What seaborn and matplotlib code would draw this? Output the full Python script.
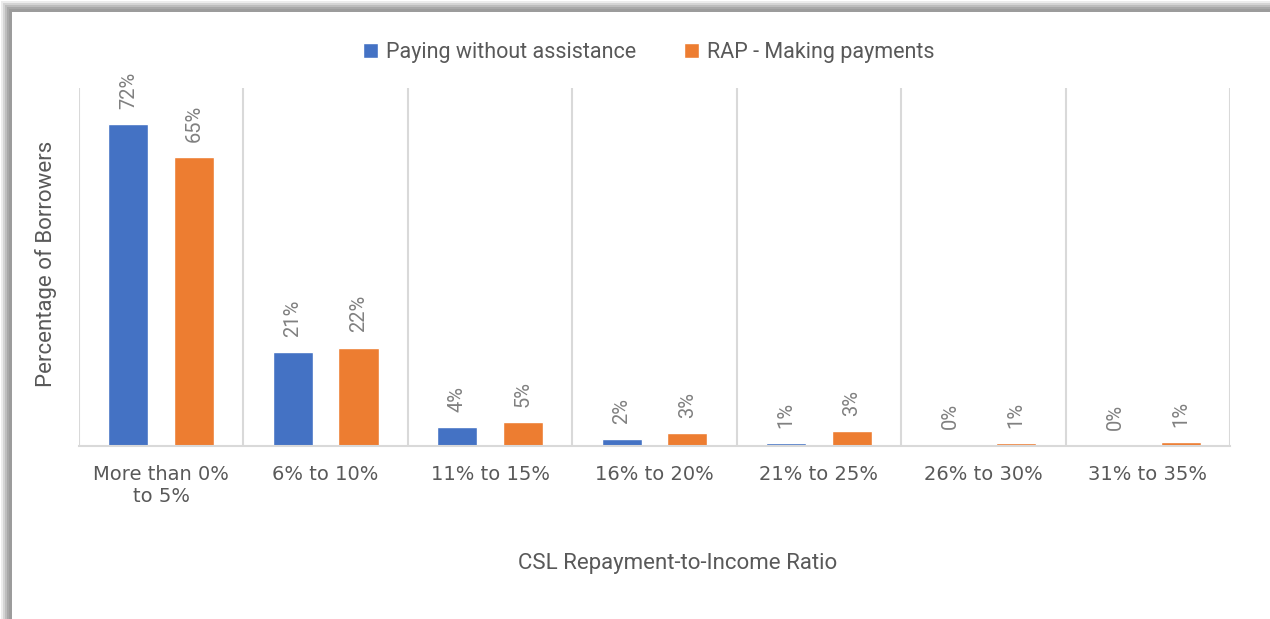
import numpy as np
import pandas as pd
import seaborn as sns
from matplotlib import pyplot as plt
from matplotlib.patches import Rectangle

# data
categories = ["More than 0%\nto 5%", "6% to 10%", "11% to 15%", "16% to 20%",
              "21% to 25%", "26% to 30%", "31% to 35%"]
paying = [72, 21, 4.2, 1.6, 0.6, 0.3, 0.2]
rap = [64.6, 22, 5.3, 2.9, 3.3, 0.6, 0.9]
series = ["Paying without assistance", "RAP - Making payments"]
colors = ["#4472C4", "#ED7D31"]

df = pd.DataFrame({
    "Ratio": categories * 2,
    "Share": paying + rap,
    "Group": [series[0]] * len(categories) + [series[1]] * len(categories),
})

sns.set_theme(style="white")
plt.rcParams["font.family"] = ["Roboto", "DejaVu Sans"]

fig = plt.figure(figsize=(12.7, 6.19), dpi=100)
fig.patch.set_facecolor("white")

# framed panel with a soft shadow on the top/left edges
shades = ["#ececec", "#d4d4d4", "#bdbdbd", "#a8a8a8", "#9c9c9c"]
for i, c in enumerate(shades):
    off = 2 * i + 1
    fig.patches.append(Rectangle((off / 1270, 0), 1, 1 - off / 619, transform=fig.transFigure,
                                 facecolor=c, edgecolor="none", zorder=-3 + i * 0.1))
fig.patches.append(Rectangle((12 / 1270, 0), 1, 1 - 12 / 619, transform=fig.transFigure,
                             facecolor="white", edgecolor="none", zorder=-1))

ax = fig.add_axes([79 / 1270, 1 - 446 / 619, (1230 - 79) / 1270, (446 - 88) / 619])
ax.set_facecolor("none")

sns.barplot(data=df, x="Ratio", y="Share", hue="Group", palette=colors,
            width=0.8, gap=0.39, ax=ax, legend=True, saturation=1)

# value labels, rotated above each bar
for cont in ax.containers:
    for bar in cont:
        h = bar.get_height()
        ax.annotate(f"{h:.0f}%", (bar.get_x() + bar.get_width() / 2, h),
                    xytext=(0, 11), textcoords="offset points",
                    rotation=90, ha="center", va="bottom",
                    fontsize=14.5, color="#808080")

ax.set_ylim(0, 80)
ax.set_xlim(-0.5, len(categories) - 0.5)
ax.set_yticks([])
ax.set_xticks(np.arange(-0.5, len(categories)), minor=True)
ax.grid(which="minor", axis="x", color="#d9d9d9", lw=1.5)
ax.tick_params(axis="x", which="both", length=0, pad=14, labelsize=14,
               labelcolor="#595959", labelfontfamily="DejaVu Sans")

for side in ["left", "right", "top"]:
    ax.spines[side].set_visible(False)
ax.spines["bottom"].set_color("#d9d9d9")
ax.spines["bottom"].set_linewidth(1.5)

ax.set_xlabel("CSL Repayment-to-Income Ratio", fontsize=16, color="#595959", va="center")
ax.xaxis.set_label_coords(0.520, -0.327)
ax.set_ylabel("Percentage of Borrowers", fontsize=16, color="#595959", va="center")
ax.yaxis.set_label_coords(-0.029, 0.51)

leg = ax.legend(loc="center", bbox_to_anchor=(0.495, 1.099), ncol=2, frameon=False,
                fontsize=15.5, handlelength=0.7, handleheight=0.7, handletextpad=0.4,
                columnspacing=2.2)
for t in leg.get_texts():
    t.set_color("#595959")

fig.savefig("out.png", dpi=100)
